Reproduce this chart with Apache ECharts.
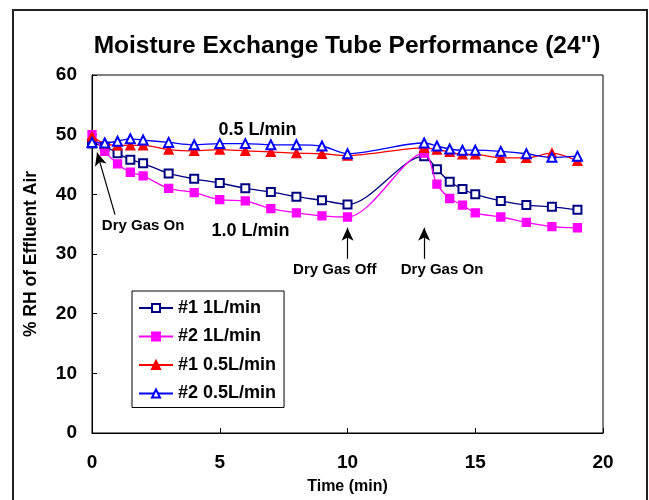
<!DOCTYPE html>
<html>
<head>
<meta charset="utf-8">
<script src="https://cdn.jsdelivr.net/npm/echarts@6/dist/echarts.min.js"></script>
<style>html,body{margin:0;padding:0;background:#fff;}#c{width:649px;height:500px;}</style>
</head>
<body>
<div id="c"></div>
<script>
const time = [0,0.5,1,1.5,2,3,4,5,6,7,8,9,10,13,13.5,14,14.5,15,16,17,18,19];
const s1_1L = [48.5,48.0,46.9,45.8,45.2,43.5,42.6,41.9,41.0,40.4,39.6,39.0,38.3,46.4,44.2,42.1,40.9,40.0,38.9,38.2,37.9,37.4];
const s2_1L = [50.0,47.2,45.1,43.7,43.1,41.0,40.3,39.1,38.9,37.6,36.9,36.4,36.2,46.9,41.7,39.3,38.2,36.9,36.2,35.3,34.6,34.4];
const s1_05L = [49.7,48.5,48.2,48.2,48.2,47.5,47.3,47.5,47.3,47.1,46.9,46.8,46.5,47.8,47.5,47.1,46.7,46.7,46.1,46.1,46.9,45.6];
const s2_05L = [48.7,48.6,48.9,49.3,49.1,48.7,48.3,48.5,48.5,48.3,48.3,48.1,46.8,48.6,48.1,47.6,47.4,47.4,47.2,46.8,46.2,46.4];
const seriesNames = ['#1 1L/min','#2 1L/min','#1 0.5L/min','#2 0.5L/min'];
const xTicks = [0,5,10,15,20];
const yTicks = [0,10,20,30,40,50,60];
// annotation arrows: [from(x,y), to(x,y)] in data units
const arrows = [
  [[0.9,36.6],[0.2,47.0]],
  [[10,29.2],[10,34.4]],
  [[13,29.2],[13,34.4]]
];
const notes = [
  {text:'0.5 L/min', x:6.48, y:50.7, size:18},
  {text:'1.0 L/min', x:6.2, y:33.9, size:18},
  {text:'Dry Gas On', x:2.0, y:34.7, size:15},
  {text:'Dry Gas Off', x:9.5, y:27.4, size:15},
  {text:'Dry Gas On', x:13.7, y:27.4, size:15}
];

const FONT = '"Liberation Sans", Arial, sans-serif';
const pair = arr => time.map((t,i)=>[t,arr[i]]);
const chart = echarts.init(document.getElementById('c'));
const styles = [
  {color:'#000080', symbol:'emptyRect', size:8},
  {color:'#FF00FF', symbol:'rect', size:8},
  {color:'#FF0000', symbol:'triangle', size:9},
  {color:'#0000FF', symbol:'emptyTriangle', size:9}
];
const dataSets = [s1_1L, s2_1L, s1_05L, s2_05L];
const series = dataSets.map((d,i)=>({
  name: seriesNames[i],
  type: 'line',
  data: pair(d),
  smooth: 0.3,
  symbol: styles[i].symbol,
  symbolSize: styles[i].size,
  showAllSymbol: true,
  lineStyle: {color: styles[i].color, width: 1.3},
  itemStyle: {color: styles[i].color, borderColor: styles[i].color, borderWidth: 1.3},
  emphasis: {disabled: true},
  animation: false,
  z: 2 + i
}));
series.push({
  type: 'line', data: [], silent: true, animation: false,
  itemStyle: {color: '#000'},
  markLine: {
    silent: true, animation: false,
    symbol: ['none','arrow'], symbolSize: [9, 13],
    lineStyle: {color:'#000', width: 1.2, type:'solid'},
    itemStyle: {color:'#000'},
    label: {show:false},
    data: arrows.map(a=>[{coord:a[0]},{coord:a[1]}])
  },
  markPoint: {
    silent: true, animation: false,
    symbol: 'circle', symbolSize: 0,
    data: notes.map(n=>({coord:[n.x,n.y], label:{show:true, formatter:n.text, color:'#000', fontFamily:FONT, fontWeight:'bold', fontSize:n.size, position:'inside'}}))
  }
});

chart.setOption({
  animation: false,
  backgroundColor: '#fff',
  title: {
    text: 'Moisture Exchange Tube Performance (24")',
    left: 342, top: 29, textAlign: 'center',
    textStyle: {fontFamily: FONT, fontWeight: 'bold', fontSize: 24.5, color: '#000'}
  },
  legend: {
    orient: 'vertical', left: 132, top: 291,
    data: seriesNames,
    itemWidth: 34, itemHeight: 10, itemGap: 10.5,
    padding: [8, 8, 5, 6],
    borderColor: '#000', borderWidth: 1, backgroundColor: '#fff',
    textStyle: {fontFamily: FONT, fontWeight: 'bold', fontSize: 18, color: '#000', lineHeight: 18},
    selectedMode: false
  },
  grid: {left: 92, top: 75, right: 46, bottom: 66, show: true, borderColor: '#000', borderWidth: 1, backgroundColor: 'transparent'},
  xAxis: {
    type: 'value', min: 0, max: 20, interval: 5,
    name: 'Time (min)', nameLocation: 'middle', nameGap: 46,
    nameTextStyle: {fontFamily: FONT, fontWeight: 'bold', fontSize: 16, color: '#000'},
    axisLine: {lineStyle: {color: '#000', width: 1}},
    axisTick: {inside: true, length: 5, lineStyle: {color: '#000'}},
    axisLabel: {fontFamily: FONT, fontWeight: 'bold', fontSize: 19, color: '#000', margin: 20,
      formatter: v => xTicks.includes(v) ? String(v) : ''},
    splitLine: {show: false}
  },
  yAxis: {
    type: 'value', min: 0, max: 60, interval: 10,
    name: '% RH of Effluent Air', nameLocation: 'middle', nameGap: 52, nameRotate: 90,
    nameTextStyle: {fontFamily: FONT, fontWeight: 'bold', fontSize: 17.5, color: '#000'},
    axisLine: {show: true, lineStyle: {color: '#000', width: 1}},
    axisTick: {show: true, inside: true, length: 5, lineStyle: {color: '#000'}},
    axisLabel: {fontFamily: FONT, fontWeight: 'bold', fontSize: 19, color: '#000', margin: 15,
      formatter: v => yTicks.includes(v) ? String(v) : ''},
    splitLine: {show: false}
  },
  graphic: [{
    type: 'rect', shape: {x: 13, y: 10, width: 634, height: 500},
    style: {fill: 'none', stroke: '#222', lineWidth: 2}, silent: true, z: 100
  }],
  series: series
});
</script>
</body>
</html>
